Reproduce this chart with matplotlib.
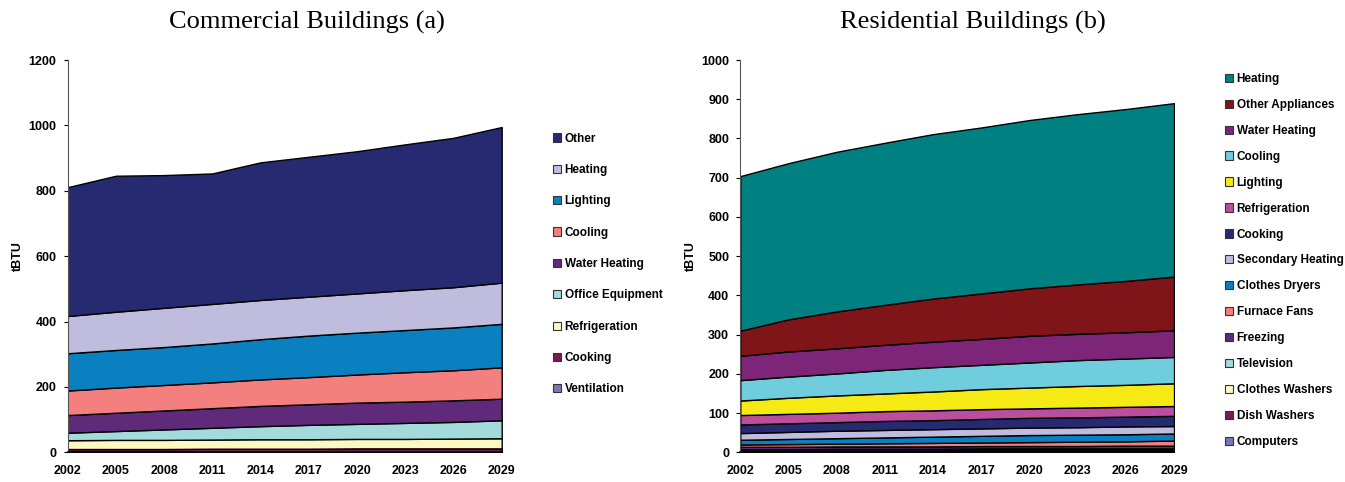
import matplotlib
matplotlib.use("Agg")
import matplotlib.pyplot as plt
from matplotlib.patches import Patch

plt.rcParams["font.family"] = ["Liberation Sans", "DejaVu Sans"]
plt.rcParams["font.weight"] = "bold"

years = [2002, 2005, 2008, 2011, 2014, 2017, 2020, 2023, 2026, 2029]

# ---------------------------------
# Commercial end uses (tBTU), bottom layer first
# ---------------------------------
com_labels = ["Ventilation", "Cooking", "Refrigeration", "Office Equipment",
              "Water Heating", "Cooling", "Lighting", "Heating", "Other"]
com_ventilation = [3, 3, 3, 3, 3, 3, 3, 3, 3, 3]
com_cooking = [7, 7, 7, 8, 8, 8, 9, 9, 9, 9]
com_refrigeration = [27, 28, 28, 28, 29, 29, 29, 29, 30, 31]
com_office = [23, 27, 32, 36, 40, 44, 46, 49, 51, 55]
com_water = [54, 56, 58, 60, 62, 63, 65, 65, 66, 66]
com_cooling = [75, 77, 78, 79, 81, 83, 86, 90, 92, 96]
com_lighting = [114, 115, 116, 119, 123, 127, 128, 129, 131, 133]
com_heating = [114, 117, 120, 121, 120, 119, 120, 122, 123, 126]
com_other = [394, 416, 406, 399, 421, 428, 435, 446, 457, 476]
com_colors = ["#7777bb", "#7a1a55", "#fbf8c2", "#a3dbdd", "#5f2a7a",
              "#f47f7f", "#0a80c0", "#c0bcdd", "#262a70"]

# ---------------------------------
# Residential end uses (tBTU), bottom layer first
# ---------------------------------
res_labels = ["Computers", "Dish Washers", "Clothes Washers", "Television",
              "Freezing", "Furnace Fans", "Clothes Dryers", "Secondary Heating",
              "Cooking", "Refrigeration", "Lighting", "Cooling",
              "Water Heating", "Other Appliances", "Heating"]
res_computers = [2, 2, 2, 2, 3, 3, 3, 3, 3, 3]
res_dish = [2, 2, 2, 3, 2, 2, 2, 2, 2, 2]
res_washers = [2, 2, 2, 1, 2, 2, 2, 2, 2, 2]
res_tv = [2, 2, 3, 3, 2, 3, 3, 3, 3, 3]
res_freezing = [6, 6, 6, 6, 6, 6, 6, 6, 7, 7]
res_furnace = [6, 7, 7, 8, 9, 9, 10, 11, 11, 13]
res_dryers = [12, 13, 14, 15, 16, 17, 18, 18, 18, 18]
res_secondary = [17, 18, 19, 19, 19, 19, 19, 19, 20, 19]
res_cooking = [22, 22, 22, 23, 23, 24, 25, 25, 25, 26]
res_refrigeration = [24, 24, 24, 25, 25, 25, 24, 25, 25, 25]
res_lighting = [37, 41, 44, 45, 48, 51, 53, 55, 56, 58]
res_cooling = [52, 54, 56, 60, 62, 62, 64, 66, 67, 67]
res_water = [62, 64, 64, 64, 65, 66, 68, 67, 67, 68]
res_other = [64, 82, 94, 102, 110, 116, 121, 126, 131, 137]
res_heating = [394, 398, 407, 413, 419, 423, 429, 434, 438, 442]
res_colors = ["#7777bb", "#7a1a55", "#fbf8c2", "#a3dbdd", "#5f2a7a",
              "#f47f7f", "#0a80c0", "#c0bcdd", "#262a70", "#bc4f9d",
              "#f5ea14", "#70cddd", "#7d2679", "#7f1518", "#008080"]

com_series = [com_ventilation, com_cooking, com_refrigeration, com_office,
              com_water, com_cooling, com_lighting, com_heating, com_other]
res_series = [res_computers, res_dish, res_washers, res_tv, res_freezing,
              res_furnace, res_dryers, res_secondary, res_cooking,
              res_refrigeration, res_lighting, res_cooling, res_water,
              res_other, res_heating]

fig = plt.figure(figsize=(13.45, 4.82), dpi=100)
ax1 = fig.add_axes([0.0503, 0.0616, 0.3227, 0.8139])
ax2 = fig.add_axes([0.5504, 0.0616, 0.3225, 0.8139])


def draw_panel(ax, series, colors, labels, ymax, ystep, legend_x, legend_y, spacing):
    ax.stackplot(years, *series, colors=colors, edgecolor="black", linewidth=1.0)
    ax.set_xlim(years[0], years[-1])
    ax.set_ylim(0, ymax)
    ax.set_xticks(years)
    ax.set_xticklabels([str(y) for y in years], fontsize=9, fontweight="bold")
    ax.set_yticks(range(0, ymax + 1, ystep))
    ax.tick_params(axis="y", labelsize=9, length=3, width=0.8, pad=5)
    ax.tick_params(axis="x", length=0, pad=9)
    ax.set_ylabel("tBTU", fontsize=9, fontweight="bold")
    for side in ["top", "right"]:
        ax.spines[side].set_visible(False)
    ax.spines["left"].set_color("#555555")
    ax.spines["left"].set_linewidth(0.8)
    ax.spines["bottom"].set_linewidth(1.2)

    handles = [Patch(facecolor=c, edgecolor="#333333", linewidth=0.8, label=l)
               for c, l in zip(colors, labels)]
    leg = ax.legend(handles[::-1], labels[::-1], loc="upper left",
                    bbox_to_anchor=(legend_x, legend_y), frameon=False,
                    fontsize=8.5, handlelength=0.7, handleheight=0.7,
                    handletextpad=0.3, labelspacing=spacing, borderaxespad=0)
    for t in leg.get_texts():
        t.set_fontweight("bold")


draw_panel(ax1, com_series, com_colors, com_labels, 1200, 200, 1.107, 0.827, 1.64)
draw_panel(ax2, res_series, res_colors, res_labels, 1000, 100, 1.106, 0.979, 1.18)
ax1.yaxis.set_label_coords(-0.1, 0.5)
ax2.yaxis.set_label_coords(-0.1, 0.5)

# ---------------------------------
# Titles
# ---------------------------------
fig.text(0.228, 0.954, "Commercial Buildings (a)", ha="center", va="center",
         fontsize=19, fontweight="normal", family="Liberation Serif")
fig.text(0.723, 0.954, "Residential Buildings (b)", ha="center", va="center",
         fontsize=19, fontweight="normal", family="Liberation Serif")

fig.savefig("out.png", dpi=100)
